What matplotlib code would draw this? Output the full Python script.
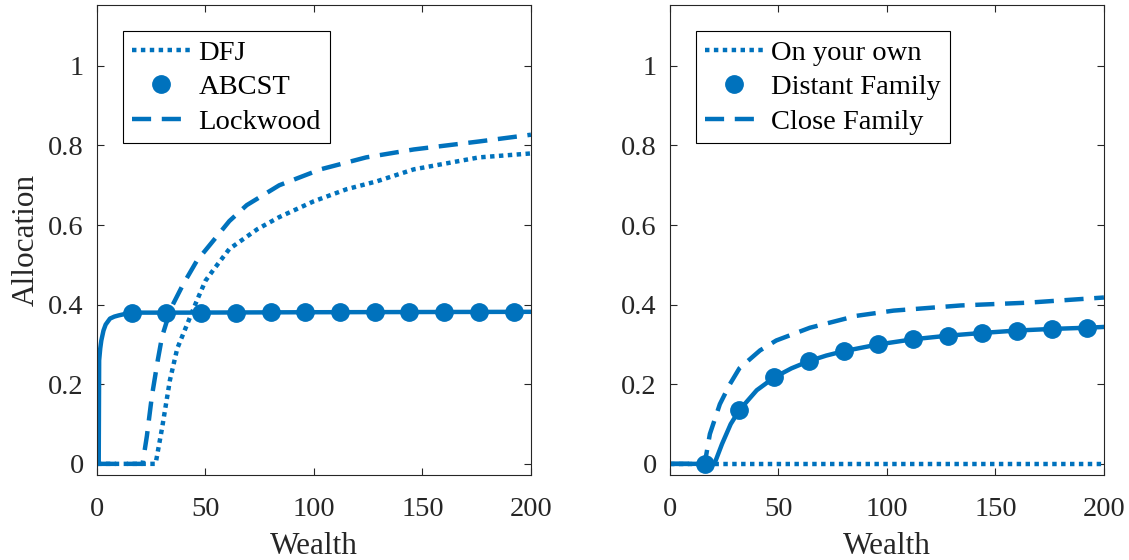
import numpy as np
import matplotlib.pyplot as plt
from matplotlib.lines import Line2D

plt.rcParams['font.family'] = ['Liberation Serif', 'DejaVu Serif']
plt.rcParams['mathtext.fontset'] = 'stix'

blue = '#0072BD'
axcol = '#262626'

# left panel: allocation rules from the literature
dfj_x = [0, 27, 30, 33.6, 37, 41.5, 46, 50, 54, 61, 74, 84, 100, 115, 129, 146, 176, 200]
dfj_y = [0, 0, 0.09, 0.21, 0.29, 0.35, 0.41, 0.46, 0.49, 0.54, 0.59, 0.62, 0.66, 0.69, 0.71, 0.74, 0.77, 0.78]

abcst_x = [0, 0.8, 1, 1.5, 2, 3, 4, 6, 8, 10, 14, 20, 40, 100, 200]
abcst_y = [0, 0, 0.26, 0.29, 0.31, 0.335, 0.35, 0.365, 0.37, 0.373, 0.378, 0.38, 0.38, 0.381, 0.382]
abcst_mx = [16, 32, 48, 64, 80, 96, 112, 128, 144, 160, 176, 192]
abcst_my = [0.38, 0.38, 0.38, 0.38, 0.381, 0.381, 0.381, 0.381, 0.381, 0.381, 0.382, 0.382]

lock_x = [0, 21, 23, 25.3, 28, 30, 34, 39.6, 46, 53.5, 61, 69, 84, 103, 124, 146, 176, 200]
lock_y = [0, 0, 0.07, 0.17, 0.26, 0.32, 0.39, 0.45, 0.51, 0.56, 0.61, 0.65, 0.70, 0.74, 0.77, 0.79, 0.81, 0.827]

# right panel: family arrangements
own_x = [0, 200]
own_y = [0, 0]

distant_x = [0, 20.5, 24, 28, 32, 40, 48, 56, 64, 72, 80, 96, 112, 128, 144, 160, 176, 192, 200]
distant_y = [0, 0, 0.05, 0.1, 0.135, 0.185, 0.217, 0.24, 0.258, 0.272, 0.283, 0.30, 0.313,
             0.322, 0.329, 0.335, 0.339, 0.342, 0.344]
distant_mx = [16, 32, 48, 64, 80, 96, 112, 128, 144, 160, 176, 192]
distant_my = [0, 0.135, 0.217, 0.258, 0.283, 0.30, 0.313, 0.322, 0.329, 0.335, 0.339, 0.342]

close_x = [0, 16, 18.4, 23, 27.6, 32, 41.5, 49, 64.5, 86, 103, 134, 165, 200]
close_y = [0, 0, 0.075, 0.15, 0.2, 0.24, 0.285, 0.31, 0.342, 0.372, 0.385, 0.398, 0.405, 0.418]

xticks = [0, 50, 100, 150, 200]
yticks = [0, 0.2, 0.4, 0.6, 0.8, 1]
ytick_labels = ['0', '0.2', '0.4', '0.6', '0.8', '1']

LW = 3.2
DOT = (0, (1, 1))
DASH = (0, (4.3, 2.4))
MS = 12.5

fig = plt.figure(figsize=(11.29, 5.6), dpi=100)
ax1 = fig.add_axes([0.0859, 0.1518, 0.3844, 0.8393])
ax2 = fig.add_axes([0.5934, 0.1518, 0.3844, 0.8393])


def style_axes(ax):
    ax.set_xlim(0, 200)
    ax.set_ylim(-0.028, 1.153)
    ax.set_xticks(xticks)
    ax.set_yticks(yticks)
    ax.set_yticklabels(ytick_labels)
    ax.tick_params(direction='in', length=5, width=0.8, colors=axcol, labelsize=20.5,
                   top=True, right=True)
    ax.tick_params(axis='x', pad=16)
    ax.tick_params(axis='y', pad=9.5)
    for sp in ax.spines.values():
        sp.set_color(axcol)
        sp.set_linewidth(0.8)
    ax.set_xlabel('Wealth', fontsize=22.5, color=axcol, labelpad=7)


def add_legend(ax, labels):
    handles = [
        Line2D([], [], color=blue, lw=LW, linestyle=DOT),
        Line2D([], [], color=blue, lw=0, marker='o', markersize=MS),
        Line2D([], [], color=blue, lw=LW, linestyle=DASH),
    ]
    leg = ax.legend(handles, labels, loc='upper left', bbox_to_anchor=(0.06, 0.944),
                    fontsize=20.5, frameon=True, fancybox=False, framealpha=1,
                    edgecolor='black', handlelength=2.1, handletextpad=0.25,
                    labelspacing=0.3, borderpad=0.3, borderaxespad=0, numpoints=1)
    leg.get_frame().set_linewidth(0.8)


# left
ax1.plot(dfj_x, dfj_y, color=blue, lw=LW, linestyle=DOT)
ax1.plot(abcst_x, abcst_y, color=blue, lw=LW, solid_joinstyle='round')
ax1.plot(abcst_mx, abcst_my, color=blue, lw=0, marker='o', markersize=MS)
ax1.plot(lock_x, lock_y, color=blue, lw=LW, linestyle=DASH)
style_axes(ax1)
ax1.set_ylabel('Allocation', fontsize=22.5, color=axcol, labelpad=5)
add_legend(ax1, ['DFJ', 'ABCST', 'Lockwood'])

# right
ax2.plot(own_x, own_y, color=blue, lw=LW, linestyle=DOT)
ax2.plot(distant_x, distant_y, color=blue, lw=LW, solid_joinstyle='round')
ax2.plot(distant_mx, distant_my, color=blue, lw=0, marker='o', markersize=MS)
ax2.plot(close_x, close_y, color=blue, lw=LW, linestyle=DASH)
style_axes(ax2)
add_legend(ax2, ['On your own', 'Distant Family', 'Close Family'])

fig.savefig('out.png', dpi=100)
